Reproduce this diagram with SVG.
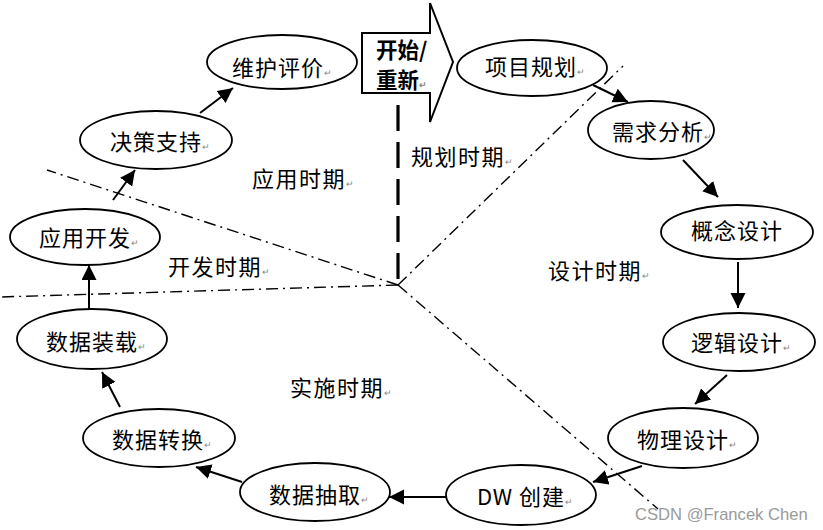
<svg xmlns="http://www.w3.org/2000/svg" width="823" height="530" viewBox="0 0 823 530">
<defs>
<marker id="ah" markerUnits="userSpaceOnUse" markerWidth="16" markerHeight="16" refX="15" refY="7.5" orient="auto">
<path d="M0,0 L15,7.5 L0,15 z" fill="#000"/>
</marker>
<style>
.n ellipse{fill:#fff;stroke:#000;stroke-width:1.8}
.t{font-family:"Noto Sans CJK SC","Noto Sans",sans-serif;font-size:22px;fill:#000;text-anchor:middle;letter-spacing:1px}
.p{font-family:"Noto Sans CJK SC","Noto Sans",sans-serif;font-size:22px;fill:#000;letter-spacing:1.5px}
.m{font-size:9px;fill:#888;letter-spacing:0}
.c line{stroke:#000;stroke-width:2;marker-end:url(#ah)}
.dd{stroke:#000;stroke-width:1.4;stroke-dasharray:12 5 2 5;fill:none}
</style>
</defs>
<rect width="823" height="530" fill="#fff"/>
<g id="phase-lines">
<line class="dd" x1="398" y1="285" x2="47" y2="170"/>
<line class="dd" x1="398" y1="285" x2="0" y2="297"/>
<line class="dd" x1="398" y1="285" x2="658" y2="509"/>
<line class="dd" x1="398" y1="285" x2="623" y2="66"/>
<line x1="398" y1="105" x2="398" y2="281" stroke="#000" stroke-width="3.2" stroke-dasharray="26 11"/>
</g>
<g id="start">
<polygon points="362,33 430,33 430,3 453,62 430,122 430,93 362,93" fill="#fff" stroke="#000" stroke-width="2"/>
<text x="376" y="58" font-family="'Noto Sans CJK SC',sans-serif" font-size="21.5" font-weight="bold">开始/</text>
<text x="376" y="88" font-family="'Noto Sans CJK SC',sans-serif" font-size="21.5" font-weight="bold">重新<tspan class="m">↵</tspan></text>
</g>
<g class="c" id="connectors">
<line x1="593" y1="85" x2="628" y2="102"/>
<line x1="683" y1="160" x2="718" y2="197"/>
<line x1="738" y1="262" x2="738" y2="308"/>
<line x1="727" y1="375" x2="695" y2="404"/>
<line x1="642" y1="466" x2="593" y2="482"/>
<line x1="446" y1="497" x2="389" y2="497"/>
<line x1="242" y1="482" x2="196" y2="467"/>
<line x1="120" y1="407" x2="102" y2="372"/>
<line x1="89" y1="309" x2="89" y2="265"/>
<line x1="113" y1="200" x2="135" y2="170"/>
<line x1="200" y1="113" x2="233" y2="88"/>
</g>
<g class="n" id="n-weihu"><ellipse cx="282" cy="62" rx="75" ry="27"/><text class="t" x="282" y="76">维护评价<tspan class="m">↵</tspan></text></g>
<g class="n" id="n-xiangmu"><ellipse cx="532" cy="68" rx="75" ry="28"/><text class="t" x="535" y="75">项目规划<tspan class="m">↵</tspan></text></g>
<g class="n" id="n-xuqiu"><ellipse cx="651" cy="130" rx="63" ry="29"/><text class="t" x="662" y="140">需求分析<tspan class="m">↵</tspan></text></g>
<g class="n" id="n-gainian"><ellipse cx="737" cy="232" rx="76" ry="27"/><text class="t" x="737" y="239">概念设计</text></g>
<g class="n" id="n-luoji"><ellipse cx="739" cy="342" rx="76" ry="29"/><text class="t" x="741" y="351">逻辑设计<tspan class="m">↵</tspan></text></g>
<g class="n" id="n-wuli"><ellipse cx="683" cy="438" rx="75" ry="30"/><text class="t" x="687" y="448">物理设计<tspan class="m">↵</tspan></text></g>
<g class="n" id="n-dw"><ellipse cx="521" cy="495" rx="75" ry="30"/><text class="t" x="525" y="505">DW 创建<tspan class="m">↵</tspan></text></g>
<g class="n" id="n-chouqu"><ellipse cx="315" cy="492" rx="75" ry="29"/><text class="t" x="319" y="503">数据抽取<tspan class="m">↵</tspan></text></g>
<g class="n" id="n-zhuanhuan"><ellipse cx="159" cy="438" rx="76" ry="29"/><text class="t" x="162" y="448">数据转换<tspan class="m">↵</tspan></text></g>
<g class="n" id="n-zhuangzai"><ellipse cx="92" cy="339" rx="75" ry="30"/><text class="t" x="96" y="350">数据装载<tspan class="m">↵</tspan></text></g>
<g class="n" id="n-yingyong"><ellipse cx="85" cy="237" rx="75" ry="28"/><text class="t" x="89" y="246">应用开发<tspan class="m">↵</tspan></text></g>
<g class="n" id="n-juece"><ellipse cx="156" cy="140" rx="76" ry="29"/><text class="t" x="160" y="150">决策支持<tspan class="m">↵</tspan></text></g>
<g id="phases">
<text class="p" x="411" y="165">规划时期<tspan class="m">↵</tspan></text>
<text class="p" x="252" y="187">应用时期<tspan class="m">↵</tspan></text>
<text class="p" x="168" y="275">开发时期<tspan class="m">↵</tspan></text>
<text class="p" x="548" y="279">设计时期<tspan class="m">↵</tspan></text>
<text class="p" x="290" y="396">实施时期<tspan class="m">↵</tspan></text>
</g>
<text x="635" y="520" font-family="'Liberation Sans',Arial,sans-serif" font-size="16.6" fill="#9a9a9a">CSDN @Francek Chen</text>
</svg>
